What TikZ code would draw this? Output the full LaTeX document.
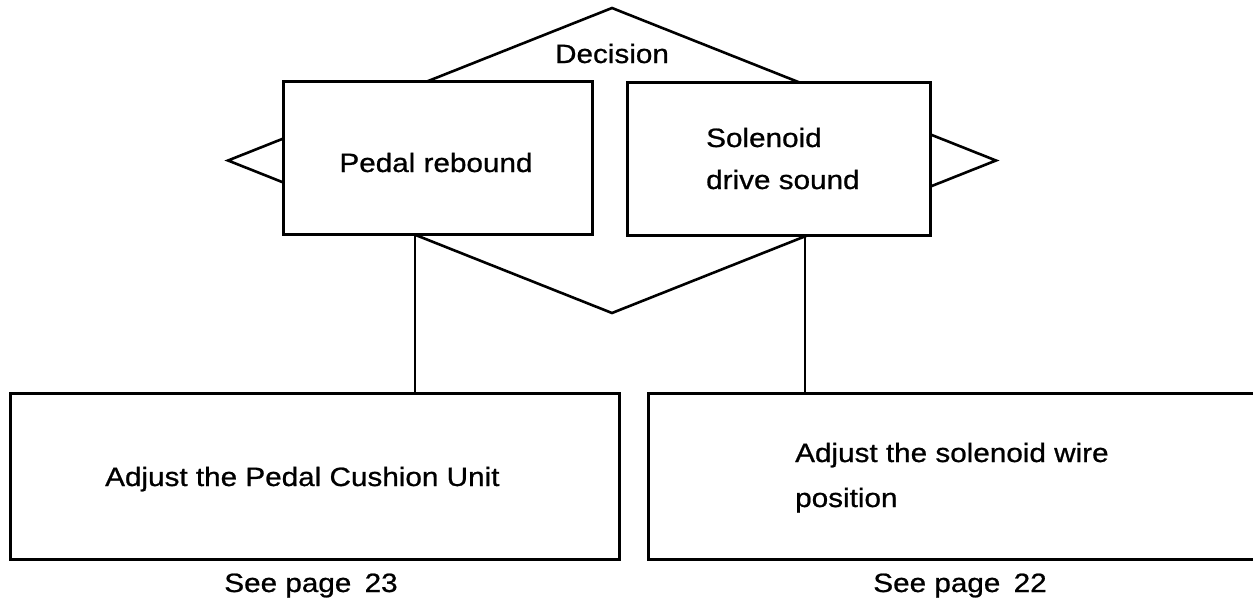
\documentclass[tikz,border=0pt]{standalone}
\usepackage{fontspec}
\setmainfont{Liberation Sans}[FakeStretch=1.12,FakeBold=0.8]
\usetikzlibrary{calc}
\begin{document}
\begin{tikzpicture}[x=1pt,y=-1pt,
  box/.style={draw, line width=3pt, fill=white, inner sep=0pt, outer sep=0pt, anchor=north west},
  lbl/.style={inner sep=0pt, font=\fontsize{26.5}{40}\selectfont},
  link/.style={line width=1.6pt},
  rhomb/.style={line width=2.6pt, line join=miter}]
\useasboundingbox (0,0) rectangle (1253,603);
\clip (0,0) rectangle (1253,603);

% decision diamond, partly hidden behind the two question boxes
\coordinate (dtop)   at (612,8);
\coordinate (dright) at (996,160.5);
\coordinate (dbot)   at (612,313);
\coordinate (dleft)  at (228,160.5);
\draw[rhomb] (dtop) -- (dright) -- (dbot) -- (dleft) -- cycle;
\node[lbl, anchor=base] (dec) at (612,63) {Decision};

% the two questions
\node[box, minimum width=309, minimum height=153] (q1) at (283,81) {};
\node[box, minimum width=303, minimum height=153] (q2) at (627,82) {};
\node[lbl, anchor=base] (q1t) at (436,172) {Pedal rebound};
\node[lbl, anchor=base west, align=left] (q2t) at (706,189) {Solenoid\\[2pt]drive sound};

% the two remedies (the right one runs off the edge)
\node[box, minimum width=609, minimum height=166] (a1) at (10,393) {};
\node[box, minimum width=620, minimum height=166] (a2) at (648,393) {};
\node[lbl, anchor=base west] (a1t) at (105,486) {Adjust the Pedal Cushion Unit};
\node[lbl, anchor=base west, align=left] (a2t) at (795,507) {Adjust the solenoid wire\\[5pt]position};
\node[lbl, anchor=base] (p1) at (311,592) {See page\hspace{0.5em}23};
\node[lbl, anchor=base] (p2) at (960,592) {See page\hspace{0.5em}22};

% connectors from each question down to its remedy
\coordinate (l1) at ([xshift=132pt]q1.south west);
\coordinate (l2) at ([xshift=178pt]q2.south west);
\draw[link] (l1) -- (l1 |- a1.north);
\draw[link] (l2) -- (l2 |- a2.north);
\end{tikzpicture}
\end{document}
